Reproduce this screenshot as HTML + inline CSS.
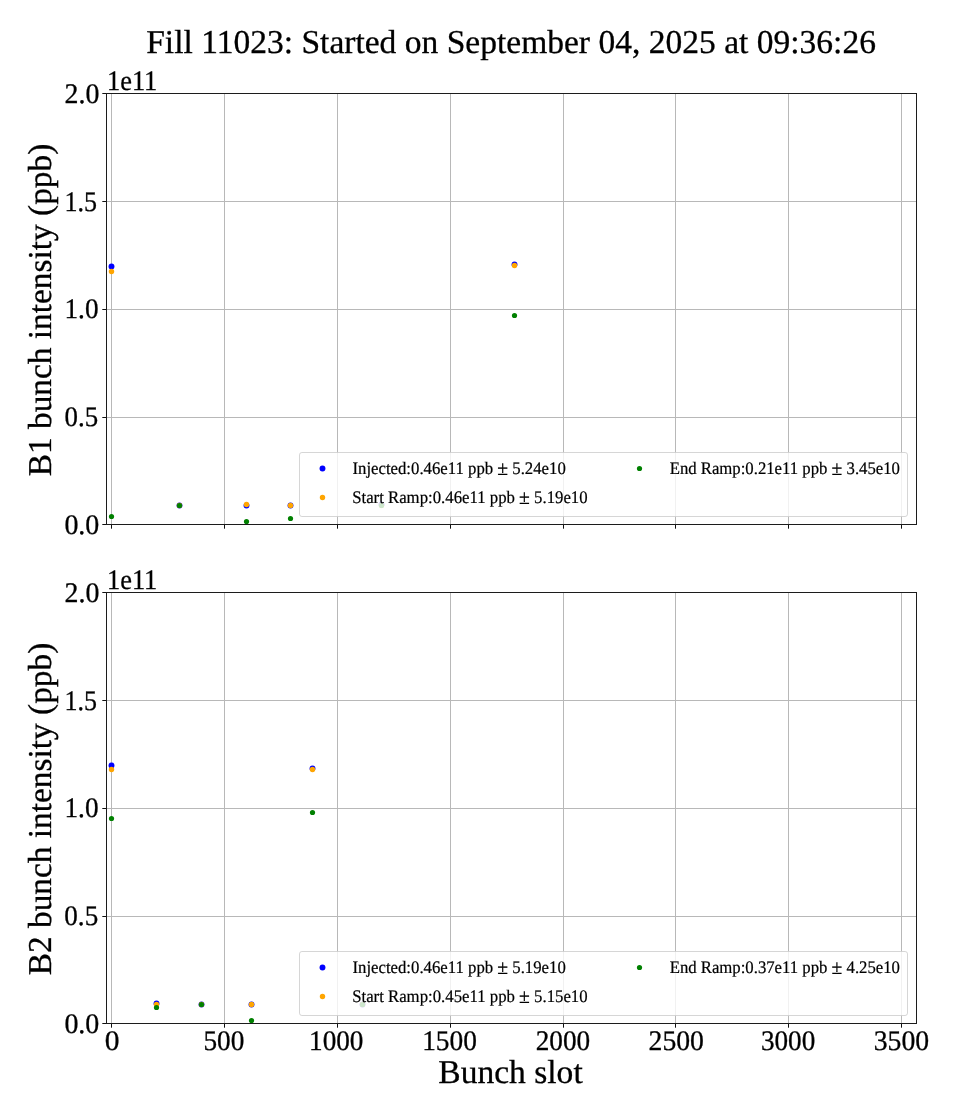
<!DOCTYPE html>
<html lang="en">
<head>
<meta charset="utf-8">
<title>Fill 11023</title>
<style>
html,body{margin:0;padding:0;background:#fff;}
body{width:960px;height:1120px;overflow:hidden;}
svg{display:block;will-change:transform;}
text{font-family:"Liberation Serif","DejaVu Serif",serif;fill:#000;stroke:#000;stroke-width:0.3px;white-space:pre;text-rendering:geometricPrecision;}
.leg{stroke-width:0.2px;}
.big{font-size:33.33px;}
.tick{font-size:27.78px;}
.leg{font-size:16.67px;}
.grid{stroke:#b8b8b8;stroke-width:1.0;fill:none;}
.frame{stroke:#1c1c1c;stroke-width:1.0;fill:none;}
.tk{stroke:#101010;stroke-width:1.0;fill:none;}
.b{fill:#0000ff;}
.o{fill:#ffa500;}
.g{fill:#008000;}
</style>
</head>
<body>
<svg width="960" height="1120" viewBox="0 0 960 1120">
<rect x="0" y="0" width="960" height="1120" fill="#ffffff"/>
<text id="title" class="big" text-anchor="middle" textLength="729.74" lengthAdjust="spacingAndGlyphs" transform="translate(511.05 53)">Fill 11023: Started on September 04, 2025 at 09:36:26</text>
<g id="axes1">
<line class="grid" x1="111.5" y1="93.5" x2="111.5" y2="524.5"/>
<line class="grid" x1="224.5" y1="93.5" x2="224.5" y2="524.5"/>
<line class="grid" x1="337.5" y1="93.5" x2="337.5" y2="524.5"/>
<line class="grid" x1="450.5" y1="93.5" x2="450.5" y2="524.5"/>
<line class="grid" x1="563.5" y1="93.5" x2="563.5" y2="524.5"/>
<line class="grid" x1="675.5" y1="93.5" x2="675.5" y2="524.5"/>
<line class="grid" x1="788.5" y1="93.5" x2="788.5" y2="524.5"/>
<line class="grid" x1="901.5" y1="93.5" x2="901.5" y2="524.5"/>
<line class="grid" x1="106.5" y1="201.5" x2="916.5" y2="201.5"/>
<line class="grid" x1="106.5" y1="309.5" x2="916.5" y2="309.5"/>
<line class="grid" x1="106.5" y1="417.5" x2="916.5" y2="417.5"/>
<circle class="b" cx="111.5" cy="266.5" r="2.95"/>
<circle class="b" cx="179.5" cy="505.5" r="2.95"/>
<circle class="b" cx="246.5" cy="505.5" r="2.95"/>
<circle class="b" cx="290.5" cy="505.5" r="2.95"/>
<circle class="b" cx="381.5" cy="504.5" r="2.95"/>
<circle class="b" cx="514.5" cy="264.5" r="2.95"/>
<circle class="o" cx="111.5" cy="271.5" r="2.7"/>
<circle class="o" cx="179.5" cy="505.5" r="2.7"/>
<circle class="o" cx="246.5" cy="504.5" r="2.7"/>
<circle class="o" cx="290.5" cy="505.5" r="2.7"/>
<circle class="o" cx="381.5" cy="505.5" r="2.7"/>
<circle class="o" cx="514.5" cy="265.5" r="2.7"/>
<circle class="g" cx="111.5" cy="516.5" r="2.6"/>
<circle class="g" cx="179.5" cy="505.5" r="2.6"/>
<circle class="g" cx="246.5" cy="521.5" r="2.6"/>
<circle class="g" cx="290.5" cy="518.5" r="2.6"/>
<circle class="g" cx="381.5" cy="505.5" r="2.6"/>
<circle class="g" cx="514.5" cy="315.5" r="2.6"/>
<line class="tk" x1="111.5" y1="524.5" x2="111.5" y2="528.7"/>
<line class="tk" x1="224.5" y1="524.5" x2="224.5" y2="528.7"/>
<line class="tk" x1="337.5" y1="524.5" x2="337.5" y2="528.7"/>
<line class="tk" x1="450.5" y1="524.5" x2="450.5" y2="528.7"/>
<line class="tk" x1="563.5" y1="524.5" x2="563.5" y2="528.7"/>
<line class="tk" x1="675.5" y1="524.5" x2="675.5" y2="528.7"/>
<line class="tk" x1="788.5" y1="524.5" x2="788.5" y2="528.7"/>
<line class="tk" x1="901.5" y1="524.5" x2="901.5" y2="528.7"/>
<line class="tk" x1="102.3" y1="93.5" x2="106.5" y2="93.5"/>
<line class="tk" x1="102.3" y1="201.5" x2="106.5" y2="201.5"/>
<line class="tk" x1="102.3" y1="309.5" x2="106.5" y2="309.5"/>
<line class="tk" x1="102.3" y1="417.5" x2="106.5" y2="417.5"/>
<line class="tk" x1="102.3" y1="524.5" x2="106.5" y2="524.5"/>
<rect class="frame" x="106.5" y="93.5" width="810.0" height="431.0"/>
<text id="off1" class="tick" text-anchor="start" textLength="50.31" lengthAdjust="spacingAndGlyphs" transform="translate(106.99 90) scale(1 1.02)">1e11</text>
<text id="yt1_0" class="tick" text-anchor="end" textLength="34.85" lengthAdjust="spacingAndGlyphs" transform="translate(99.36 103) scale(1 1.02)">2.0</text>
<text id="yt1_1" class="tick" text-anchor="end" textLength="32.53" lengthAdjust="spacingAndGlyphs" transform="translate(96.9 211) scale(1 1.02)">1.5</text>
<text id="yt1_2" class="tick" text-anchor="end" textLength="34.03" lengthAdjust="spacingAndGlyphs" transform="translate(98.53 318) scale(1 1.02)">1.0</text>
<text id="yt1_3" class="tick" text-anchor="end" textLength="33.61" lengthAdjust="spacingAndGlyphs" transform="translate(98.12 426) scale(1 1.02)">0.5</text>
<text id="yt1_4" class="tick" text-anchor="end" textLength="34.97" lengthAdjust="spacingAndGlyphs" transform="translate(99.35 534) scale(1 1.02)">0.0</text>
<text id="yl1" class="big" text-anchor="middle" textLength="332.61" lengthAdjust="spacingAndGlyphs" transform="translate(51 310) rotate(-90)">B1 bunch intensity (ppb)</text>
<rect x="299.5" y="452.5" width="608" height="64" rx="2.4" ry="2.4" fill="#ffffff" fill-opacity="0.8" stroke="#cccccc" stroke-opacity="0.8" stroke-width="1.0"/>
<circle class="b" cx="322.5" cy="468.5" r="2.95"/>
<circle class="o" cx="322.5" cy="497.5" r="2.7"/>
<circle class="g" cx="639.5" cy="468.5" r="2.6"/>
<text id="leg1_0" class="leg" text-anchor="start" textLength="213.31" lengthAdjust="spacingAndGlyphs" transform="translate(352.47 474) scale(1 1.06)">Injected:0.46e11 ppb <tspan font-size="19.6" dy="1.2">±</tspan><tspan dy="-1.2"> 5.24e10</tspan></text>
<text id="leg1_1" class="leg" text-anchor="start" textLength="235.48" lengthAdjust="spacingAndGlyphs" transform="translate(352.17 503) scale(1 1.06)">Start Ramp:0.46e11 ppb <tspan font-size="19.6" dy="1.2">±</tspan><tspan dy="-1.2"> 5.19e10</tspan></text>
<text id="leg1_2" class="leg" text-anchor="start" textLength="230.26" lengthAdjust="spacingAndGlyphs" transform="translate(669.67 474) scale(1 1.06)">End Ramp:0.21e11 ppb <tspan font-size="19.6" dy="1.2">±</tspan><tspan dy="-1.2"> 3.45e10</tspan></text>
</g>
<g id="axes2">
<line class="grid" x1="111.5" y1="592.5" x2="111.5" y2="1023.5"/>
<line class="grid" x1="224.5" y1="592.5" x2="224.5" y2="1023.5"/>
<line class="grid" x1="337.5" y1="592.5" x2="337.5" y2="1023.5"/>
<line class="grid" x1="450.5" y1="592.5" x2="450.5" y2="1023.5"/>
<line class="grid" x1="563.5" y1="592.5" x2="563.5" y2="1023.5"/>
<line class="grid" x1="675.5" y1="592.5" x2="675.5" y2="1023.5"/>
<line class="grid" x1="788.5" y1="592.5" x2="788.5" y2="1023.5"/>
<line class="grid" x1="901.5" y1="592.5" x2="901.5" y2="1023.5"/>
<line class="grid" x1="106.5" y1="700.5" x2="916.5" y2="700.5"/>
<line class="grid" x1="106.5" y1="808.5" x2="916.5" y2="808.5"/>
<line class="grid" x1="106.5" y1="916.5" x2="916.5" y2="916.5"/>
<circle class="b" cx="111.5" cy="765.5" r="2.95"/>
<circle class="b" cx="156.5" cy="1003.5" r="2.95"/>
<circle class="b" cx="201.5" cy="1004.5" r="2.95"/>
<circle class="b" cx="251.5" cy="1004.5" r="2.95"/>
<circle class="b" cx="312.5" cy="768.5" r="2.95"/>
<circle class="b" cx="362.5" cy="1004.5" r="2.95"/>
<circle class="o" cx="111.5" cy="769.5" r="2.7"/>
<circle class="o" cx="156.5" cy="1004.5" r="2.7"/>
<circle class="o" cx="201.5" cy="1004.5" r="2.7"/>
<circle class="o" cx="251.5" cy="1004.5" r="2.7"/>
<circle class="o" cx="312.5" cy="769.5" r="2.7"/>
<circle class="o" cx="362.5" cy="1004.5" r="2.7"/>
<circle class="g" cx="111.5" cy="818.5" r="2.6"/>
<circle class="g" cx="156.5" cy="1007.5" r="2.6"/>
<circle class="g" cx="201.5" cy="1004.5" r="2.6"/>
<circle class="g" cx="251.5" cy="1020.5" r="2.6"/>
<circle class="g" cx="312.5" cy="812.5" r="2.6"/>
<circle class="g" cx="362.5" cy="1004.5" r="2.6"/>
<line class="tk" x1="111.5" y1="1023.5" x2="111.5" y2="1027.7"/>
<line class="tk" x1="224.5" y1="1023.5" x2="224.5" y2="1027.7"/>
<line class="tk" x1="337.5" y1="1023.5" x2="337.5" y2="1027.7"/>
<line class="tk" x1="450.5" y1="1023.5" x2="450.5" y2="1027.7"/>
<line class="tk" x1="563.5" y1="1023.5" x2="563.5" y2="1027.7"/>
<line class="tk" x1="675.5" y1="1023.5" x2="675.5" y2="1027.7"/>
<line class="tk" x1="788.5" y1="1023.5" x2="788.5" y2="1027.7"/>
<line class="tk" x1="901.5" y1="1023.5" x2="901.5" y2="1027.7"/>
<line class="tk" x1="102.3" y1="592.5" x2="106.5" y2="592.5"/>
<line class="tk" x1="102.3" y1="700.5" x2="106.5" y2="700.5"/>
<line class="tk" x1="102.3" y1="808.5" x2="106.5" y2="808.5"/>
<line class="tk" x1="102.3" y1="916.5" x2="106.5" y2="916.5"/>
<line class="tk" x1="102.3" y1="1023.5" x2="106.5" y2="1023.5"/>
<rect class="frame" x="106.5" y="592.5" width="810.0" height="431.0"/>
<text id="off2" class="tick" text-anchor="start" textLength="50.31" lengthAdjust="spacingAndGlyphs" transform="translate(106.99 589) scale(1 1.02)">1e11</text>
<text id="yt2_0" class="tick" text-anchor="end" textLength="34.85" lengthAdjust="spacingAndGlyphs" transform="translate(99.36 602) scale(1 1.02)">2.0</text>
<text id="yt2_1" class="tick" text-anchor="end" textLength="32.46" lengthAdjust="spacingAndGlyphs" transform="translate(96.97 710) scale(1 1.02)">1.5</text>
<text id="yt2_2" class="tick" text-anchor="end" textLength="34.03" lengthAdjust="spacingAndGlyphs" transform="translate(98.53 817) scale(1 1.02)">1.0</text>
<text id="yt2_3" class="tick" text-anchor="end" textLength="33.9" lengthAdjust="spacingAndGlyphs" transform="translate(98.2 925) scale(1 1.02)">0.5</text>
<text id="yt2_4" class="tick" text-anchor="end" textLength="34.97" lengthAdjust="spacingAndGlyphs" transform="translate(99.35 1033) scale(1 1.02)">0.0</text>
<text id="yl2" class="big" text-anchor="middle" textLength="332.61" lengthAdjust="spacingAndGlyphs" transform="translate(51 809) rotate(-90)">B2 bunch intensity (ppb)</text>
<rect x="299.5" y="951.5" width="608" height="64" rx="2.4" ry="2.4" fill="#ffffff" fill-opacity="0.8" stroke="#cccccc" stroke-opacity="0.8" stroke-width="1.0"/>
<circle class="b" cx="322.5" cy="967.5" r="2.95"/>
<circle class="o" cx="322.5" cy="996.5" r="2.7"/>
<circle class="g" cx="639.5" cy="967.5" r="2.6"/>
<text id="leg2_0" class="leg" text-anchor="start" textLength="213.31" lengthAdjust="spacingAndGlyphs" transform="translate(352.47 973) scale(1 1.06)">Injected:0.46e11 ppb <tspan font-size="19.6" dy="1.2">±</tspan><tspan dy="-1.2"> 5.19e10</tspan></text>
<text id="leg2_1" class="leg" text-anchor="start" textLength="235.48" lengthAdjust="spacingAndGlyphs" transform="translate(352.17 1002) scale(1 1.06)">Start Ramp:0.45e11 ppb <tspan font-size="19.6" dy="1.2">±</tspan><tspan dy="-1.2"> 5.15e10</tspan></text>
<text id="leg2_2" class="leg" text-anchor="start" textLength="230.26" lengthAdjust="spacingAndGlyphs" transform="translate(669.67 973) scale(1 1.06)">End Ramp:0.37e11 ppb <tspan font-size="19.6" dy="1.2">±</tspan><tspan dy="-1.2"> 4.25e10</tspan></text>
</g>
<text id="xlabel" class="big" text-anchor="middle" textLength="144.41" lengthAdjust="spacingAndGlyphs" transform="translate(510.49 1083)">Bunch slot</text>
<text id="xt0" class="tick" text-anchor="middle" textLength="14.74" lengthAdjust="spacingAndGlyphs" transform="translate(112.16 1050) scale(1 1.02)">0</text>
<text id="xt1" class="tick" text-anchor="middle" textLength="40.93" lengthAdjust="spacingAndGlyphs" transform="translate(223.92 1050) scale(1 1.02)">500</text>
<text id="xt2" class="tick" text-anchor="middle" textLength="54.37" lengthAdjust="spacingAndGlyphs" transform="translate(336.26 1050) scale(1 1.02)">1000</text>
<text id="xt3" class="tick" text-anchor="middle" textLength="54.79" lengthAdjust="spacingAndGlyphs" transform="translate(449.54 1050) scale(1 1.02)">1500</text>
<text id="xt4" class="tick" text-anchor="middle" textLength="54.52" lengthAdjust="spacingAndGlyphs" transform="translate(562.94 1050) scale(1 1.02)">2000</text>
<text id="xt5" class="tick" text-anchor="middle" textLength="55.4" lengthAdjust="spacingAndGlyphs" transform="translate(676.25 1050) scale(1 1.02)">2500</text>
<text id="xt6" class="tick" text-anchor="middle" textLength="54.34" lengthAdjust="spacingAndGlyphs" transform="translate(788.06 1050) scale(1 1.02)">3000</text>
<text id="xt7" class="tick" text-anchor="middle" textLength="55.41" lengthAdjust="spacingAndGlyphs" transform="translate(901.43 1050) scale(1 1.02)">3500</text>
</svg>
</body>
</html>
